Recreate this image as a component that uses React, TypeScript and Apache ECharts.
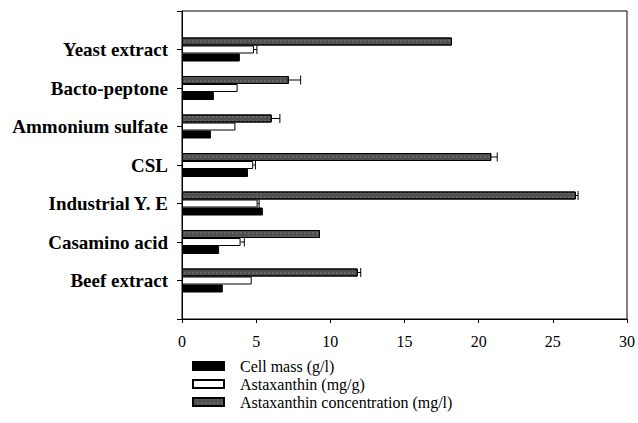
import React, { useEffect, useRef } from "react";
import * as echarts from "echarts";

// Categories listed bottom -> top (as drawn on the y axis)
const categories = [
  "Beef extract",
  "Casamino acid",
  "Industrial Y. E",
  "CSL",
  "Ammonium sulfate",
  "Bacto-peptone",
  "Yeast extract",
];

const cellMass = [2.75, 2.5, 5.45, 4.45, 1.95, 2.15, 3.9];
const astaxanthin = [4.7, 3.95, 5.1, 4.8, 3.6, 3.75, 4.85];
const astaxanthinErr = [0, 0.25, 0.1, 0.15, 0, 0, 0.2];
const astaxConc = [11.85, 9.3, 26.55, 20.85, 6.05, 7.2, 18.2];
const astaxConcErr = [0.2, 0, 0.15, 0.4, 0.55, 0.8, 0];

const xTicks = [0, 5, 10, 15, 20, 25, 30];

const seriesNames = [
  "Cell mass (g/l)",
  "Astaxanthin (mg/g)",
  "Astaxanthin concentration (mg/l)",
];

const FONT = "Liberation Serif";
const BAR_W = 8;

function pad<T>(arr: T[]): (T | null)[] {
  return [null, ...arr, null];
}

function errSeries(values: number[], errs: number[], offset: number) {
  const data: number[][] = [];
  values.forEach((v, i) => {
    if (errs[i] > 0) data.push([v, i + 1, errs[i]]);
  });
  return {
    type: "custom",
    silent: true,
    z: 5,
    encode: { x: 0, y: 1 },
    data,
    renderItem: (params: any, api: any) => {
      const v = api.value(0);
      const c = api.value(1);
      const e = api.value(2);
      const p0 = api.coord([v, c]);
      const p1 = api.coord([v + e, c]);
      const y = p0[1] + offset;
      const style = { stroke: "#000", lineWidth: 1 };
      return {
        type: "group",
        children: [
          { type: "line", shape: { x1: p0[0], y1: y, x2: p1[0], y2: y }, style },
          { type: "line", shape: { x1: p1[0], y1: y - 4.5, x2: p1[0], y2: y + 4.5 }, style },
        ],
      };
    },
  };
}

export default function App() {
  const ref = useRef<HTMLDivElement>(null);
  useEffect(() => {
    if (!ref.current) return;
    const chart = echarts.init(ref.current, undefined, { renderer: "svg" });
    const axisCats = ["", ...categories, " "];
    chart.setOption({
      animation: false,
      backgroundColor: "#fff",
      grid: {
        left: 182,
        right: 10,
        top: 11,
        bottom: 104,
        show: true,
        borderColor: "#000",
        borderWidth: 1,
        containLabel: false,
      },
      legend: {
        orient: "vertical",
        left: 192,
        top: 358,
        data: seriesNames,
        icon: "rect",
        itemWidth: 31,
        itemHeight: 8,
        itemGap: 2,
        padding: 0,
        textStyle: {
          fontFamily: FONT,
          fontSize: 16,
          color: "#000",
          lineHeight: 16,
          padding: [0, 0, 0, 11],
        },
      },
      xAxis: {
        type: "value",
        min: 0,
        max: 30,
        interval: 5,
        axisLine: { show: true, lineStyle: { color: "#000", width: 1 } },
        axisTick: { show: true, length: 4, lineStyle: { color: "#000" } },
        axisLabel: {
          margin: 14,
          fontFamily: FONT,
          fontSize: 16,
          color: "#000",
          formatter: (v: number) => (xTicks.includes(v) ? String(v) : ""),
        },
        splitLine: { show: false },
      },
      yAxis: {
        type: "category",
        data: axisCats,
        boundaryGap: false,
        axisLine: { show: true, lineStyle: { color: "#000", width: 1 } },
        axisTick: { show: true, length: 5, interval: 0, lineStyle: { color: "#000" } },
        axisLabel: {
          interval: 0,
          margin: 14,
          fontFamily: FONT,
          fontSize: 19,
          fontWeight: "bold",
          color: "#000",
        },
        splitLine: { show: false },
      },
      series: [
        {
          name: seriesNames[2],
          type: "bar",
          data: pad(astaxConc),
          barWidth: BAR_W,
          barGap: 0,
          itemStyle: {
            color: "#505050",
            borderColor: "#000",
            borderWidth: 1,
            decal: {
              symbol: "rect",
              symbolSize: 0.6,
              color: "rgba(255,255,255,0.35)",
              dashArrayX: [2, 2],
              dashArrayY: [2, 2],
              rotation: 0,
            },
          },
        },
        {
          name: seriesNames[1],
          type: "bar",
          data: pad(astaxanthin),
          barWidth: BAR_W,
          barGap: 0,
          itemStyle: { color: "#fff", borderColor: "#000", borderWidth: 1 },
        },
        {
          name: seriesNames[0],
          type: "bar",
          data: pad(cellMass),
          barWidth: BAR_W,
          barGap: 0,
          itemStyle: { color: "#000", borderColor: "#000", borderWidth: 1 },
        },
        errSeries(astaxConc, astaxConcErr, -BAR_W),
        errSeries(astaxanthin, astaxanthinErr, 0),
      ],
    });
    return () => chart.dispose();
  }, []);
  return <div ref={ref} style={{ width: 638, height: 423, position: "absolute", left: 0, top: 0 }} />;
}
